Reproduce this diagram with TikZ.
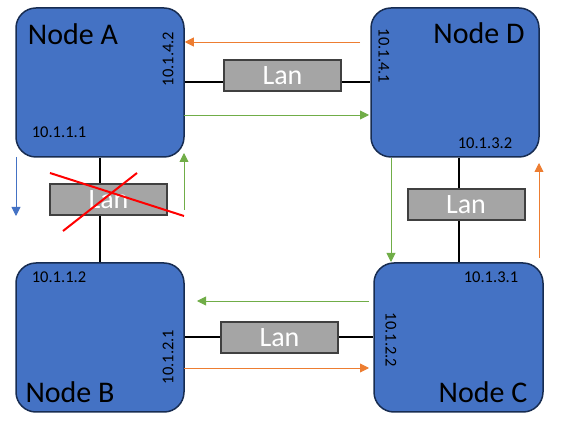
\documentclass[tikz,border=0pt]{standalone}
\usepackage{fontspec}
\setmainfont{Carlito}
\usetikzlibrary{arrows.meta}
\definecolor{nodeblue}{HTML}{4472C4}
\definecolor{nodeedge}{HTML}{172C51}
\definecolor{langray}{HTML}{A5A5A5}
\definecolor{lanedge}{HTML}{404040}
\definecolor{linkorange}{HTML}{ED7D31}
\definecolor{linkgreen}{HTML}{70AD47}
\begin{document}
\begin{tikzpicture}[x=1pt,y=-1pt,
	router/.style={draw=nodeedge,line width=1.5pt,fill=nodeblue,rounded corners=20pt,minimum width=168pt,minimum height=149pt,inner sep=0pt},
	lan/.style={draw=lanedge,line width=2pt,fill=langray,text=white,minimum width=117pt,minimum height=31pt,inner sep=0pt,font=\fontsize{28}{30}\selectfont},
	ip/.style={inner sep=0pt,font=\fontsize{16.5}{18}\selectfont},
	title/.style={inner sep=0pt,font=\fontsize{30}{32}\selectfont},
	flow/.style={line width=0.9pt,-{Triangle[length=9pt,width=9pt]}}]
		\useasboundingbox (0,0) rectangle (581,427);
		\node[router] (nodeA) at (100,82.5) {};
		\node[router] (nodeD) at (455,82.5) {};
		\node[router] (nodeB) at (100,337.5) {};
		\node[router,minimum width=169pt] (nodeC) at (458.5,337.5) {};
		\node[lan] (lanAD) at (282.5,76) {Lan};
		\node[lan] (lanAB) at (108.5,199.5) {Lan};
		\node[lan] (lanDC) at (466,205) {Lan};
		\node[lan] (lanBC) at (279.5,338) {Lan};
		\draw[line width=2pt] (nodeA.east) -- (nodeA.east -| lanAD.west);
		\draw[line width=2pt] (nodeD.west -| lanAD.east) -- (nodeD.west);
		\draw[line width=2pt] (nodeA.south) -- (nodeA.south |- lanAB.north);
		\draw[line width=2pt] (nodeB.north |- lanAB.south) -- (nodeB.north);
		\draw[line width=2pt] (nodeC.north |- nodeD.south) -- (nodeC.north |- lanDC.north);
		\draw[line width=2pt] (nodeC.north |- lanDC.south) -- (nodeC.north);
		\draw[line width=2pt] (nodeB.east) -- (nodeB.east -| lanBC.west);
		\draw[line width=2pt] (nodeC.west -| lanBC.east) -- (nodeC.west);
		\node[title] (titleA) at (73,34) {Node A};
		\node[title] (titleD) at (479,33) {Node D};
		\node[title] (titleB) at (70,392) {Node B};
		\node[title] (titleC) at (483,392) {Node C};
		\node[ip] (ipAB) at (59,132) {10.1.1.1};
		\node[ip,rotate=90] (ipAD) at (168,59) {10.1.4.2};
		\node[ip,rotate=-90] (ipDA) at (384,56) {10.1.4.1};
		\node[ip] (ipDC) at (485,143) {10.1.3.2};
		\node[ip] (ipBA) at (59,277) {10.1.1.2};
		\node[ip,rotate=90] (ipBC) at (168,357) {10.1.2.1};
		\node[ip] (ipCD) at (491,277) {10.1.3.1};
		\node[ip,rotate=-90] (ipCB) at (391,340) {10.1.2.2};
		\coordinate (fromDA) at (360,42);
		\coordinate (fromAD) at (184,115);
		\coordinate (fromAB) at (16,157);
		\coordinate (fromBA) at (184,210);
		\coordinate (fromDC) at (391,158);
		\coordinate (fromCD) at (539,258);
		\coordinate (fromCB) at (369,301);
		\coordinate (fromBC) at (184,368);
		\draw[flow,linkorange] (fromDA) -- (fromDA -| nodeA.east);
		\draw[flow,linkgreen] (fromAD) -- ++(185,0);
		\draw[flow,nodeblue] (fromAB) -- ++(0,59);
		\draw[flow,linkgreen] (fromBA) -- ++(0,-57);
		\draw[flow,linkgreen] (fromDC) -- ++(0,104);
		\draw[flow,linkorange] (fromCD) -- ++(0,-95);
		\draw[flow,linkgreen] (fromCB) -- ++(-172,0);
		\draw[flow,linkorange] (fromBC) -- ++(185,0);
		\draw[red,line width=2pt] (50,173) -- (184,216);
		\draw[red,line width=2pt] (137,173) -- (63,231);
	\end{tikzpicture}
\end{document}
